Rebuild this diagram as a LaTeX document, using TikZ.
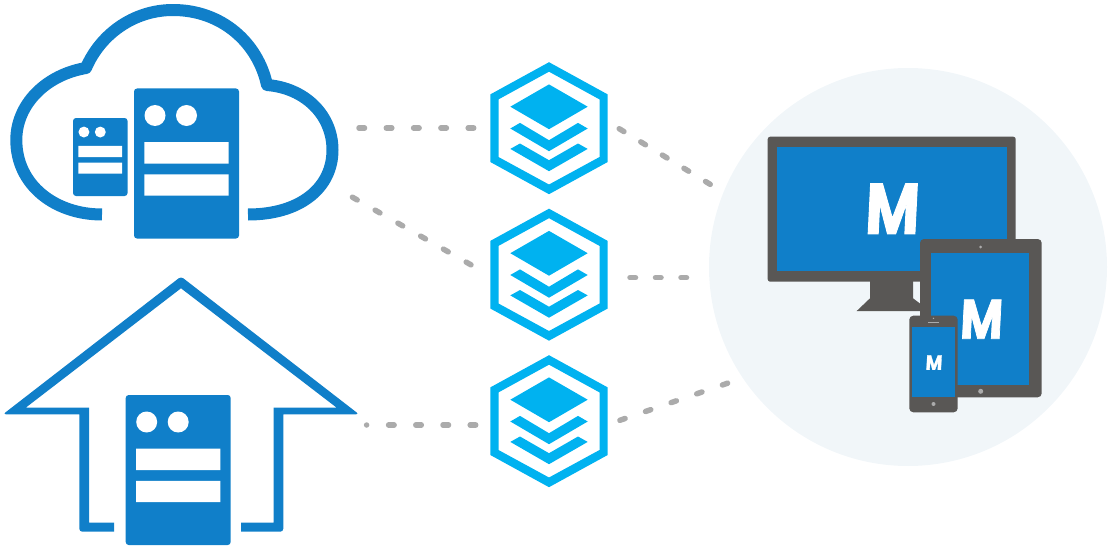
\documentclass[tikz,border=0pt]{standalone}
\usepackage{fontspec}
\usepackage{graphicx}
\newfontfamily\logofont[FakeSlant=0.06,FakeBold=1.6]{Poppins}
\definecolor{servblue}{HTML}{107FC9}
\definecolor{hexblue}{HTML}{00B2F0}
\definecolor{linkgrey}{HTML}{ABABAB}
\definecolor{devgrey}{HTML}{595755}
\definecolor{discbg}{HTML}{F1F6F9}
\newcommand{\logoM}[2]{\resizebox{#1pt}{#2pt}{\logofont\bfseries M}}

\begin{document}
\begin{tikzpicture}[
	x=1pt, y=-1pt,
	link/.style={draw=linkgrey, line width=5.5pt, line cap=round, dash pattern=on 5.5pt off #1pt},
	logo/.style={text=white, inner sep=0pt, outer sep=0pt},
	server/.pic={
		\fill[servblue, rounded corners=3pt] (0,0) rectangle (105,150);
		\fill[white] (21,27) circle (10.5) (52.5,27) circle (10.5);
		\fill[white] (10.4,53.6) rectangle (94.6,75) (10.4,85.8) rectangle (94.6,107);
	},
	stack/.pic={
		\fill[hexblue, even odd rule] (0,-66) -- (58.7,-33.8) -- (58.7,33.8) -- (0,66) -- (-58.7,33.8) -- (-58.7,-33.8) -- cycle
			(0,-56.5) -- (50.5,-28.8) -- (50.5,28.8) -- (0,56.3) -- (-50.5,28.8) -- (-50.5,-28.8) -- cycle;
		\fill[hexblue] (0,-43.8) -- (38.7,-21.5) -- (0,1) -- (-38.7,-21.5) -- cycle;
		\fill[hexblue] (-38.7,0.3) -- (-29,-5.3) -- (0,12) -- (29,-5.3) -- (38.7,0.3) -- (0,23) -- cycle;
		\fill[hexblue] (-38.7,20.7) -- (-29,15.3) -- (0,32) -- (29,15.3) -- (38.7,20.7) -- (0,43) -- cycle;
	}
	]

	\useasboundingbox (0,0) rectangle (1112,551);

	\fill[discbg] (908,267) circle (199);

	\draw[servblue, line width=12pt, line join=round] (102,214.5) .. controls (55,214.5) and (16.3,185) .. (16.3,140)
		.. controls (16.3,105) and (45,75) .. (86,68)
		.. controls (100,35) and (133,10) .. (173,10)
		.. controls (222,10) and (258,43) .. (267,85)
		.. controls (305,88) and (332.5,115) .. (332.5,150)
		.. controls (332.5,188) and (300,214.5) .. (248,214.5);
	\pic at (134,88.5) {server};
	\pic[scale=.52] at (73,118) {server};

	\fill[servblue] (114,522.7) -- (89,522.7) -- (89,407.7) -- (25.7,407.7) -- (181,288.3) -- (336.7,407.7)
		-- (273.7,407.7) -- (273.7,522.7) -- (241,522.7) -- (241,531.7)
		[rounded corners=3pt] -- (283.3,531.7) [sharp corners] -- (283.3,414.3)
		[rounded corners=3pt] -- (359,414.3) -- (181,276.5) -- (3,414.3) [sharp corners] -- (79.3,414.3)
		[rounded corners=3pt] -- (79.3,531.7) [sharp corners] -- (114,531.7) -- cycle;
	\pic at (125.7,395) {server};

	\pic at (549,128.2) {stack};
	\pic at (549,274.7) {stack};
	\pic at (549,421.2) {stack};

	\coordinate (cloudA) at (359,128);
	\coordinate (stackAin) at (474,128);
	\coordinate (cloudB) at (352.4,197.2);
	\coordinate (stackBin) at (471.6,265.2);
	\coordinate (houseA) at (366.6,425);
	\coordinate (stackCin) at (476,425);
	\coordinate (stackAout) at (619.2,128.7);
	\coordinate (discA) at (710.6,184.6);
	\coordinate (stackBout) at (630,277.7);
	\coordinate (discB) at (687,277.7);
	\coordinate (stackCout) at (619.9,420.3);
	\coordinate (discC) at (728.1,383);

	\draw[link=21.8] (cloudA) -- (stackAin);
	\draw[link=20.7] (cloudB) -- (stackBin);
	\draw[link=1, dash pattern=on 0pt off 22pt on 5.5pt off 21.7pt on 5.5pt off 21.7pt on 5.5pt off 21.7pt on 5.5pt off 21.7pt] (houseA) -- (stackCin);
	\draw[link=19.8] (stackAout) -- (discA);
	\draw[link=20] (stackBout) -- (discB);
	\draw[link=21.6] (stackCout) -- (discC);

	\fill[devgrey, rounded corners=2.5pt] (767.7,136.7) rectangle (1015.7,281.7);
	\fill[servblue] (777,147) rectangle (1006.7,270.7);
	\fill[devgrey] (870,280) -- (870,298.3) -- (856.7,311) -- (930,311) -- (913,298.3) -- (913,280) -- cycle;
	\node (monitorM) [logo] at (891.5,208.8) {\logoM{54}{50}};

	\fill[devgrey, rounded corners=4pt] (920,239) rectangle (1041.7,397.3);
	\fill[servblue] (931,253.3) rectangle (1029.3,385);
	\fill[linkgrey] (980.7,247) circle (1.5);
	\fill[linkgrey] (980.7,391.3) circle (2.5);
	\node (tabletM) [logo] at (980.8,319.2) {\logoM{42.5}{39}};

	\fill[devgrey, rounded corners=4pt] (909.3,315.7) rectangle (957.7,412.3);
	\fill[servblue] (912,327) rectangle (955,396.7);
	\fill[linkgrey] (928.3,321.8) rectangle (938.7,322.8);
	\fill[linkgrey] (933.5,318.4) circle (.8);
	\fill[linkgrey] (933.5,404) circle (2);
	\node (phoneM) [logo] at (933.7,362.5) {\logoM{16.5}{14.5}};

\end{tikzpicture}
\end{document}
